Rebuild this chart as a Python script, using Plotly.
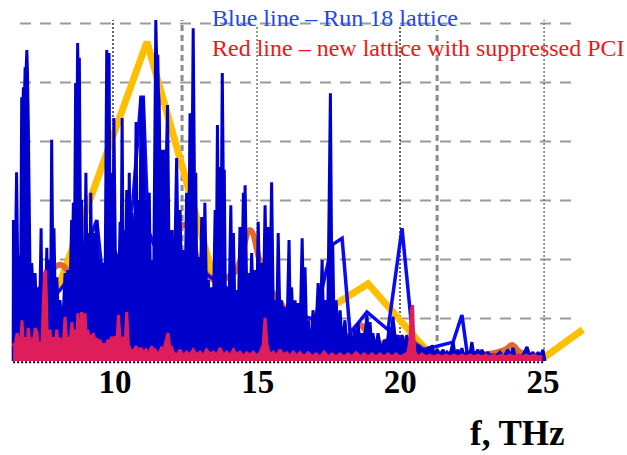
import plotly.graph_objects as go

# ---- spectra: frequency (THz) and relative amplitude (a.u.) ----
blue_f = [6.43, 6.44, 6.49, 6.55, 6.60, 6.65, 6.69, 6.73, 6.76, 6.79, 6.82, 6.85, 6.87, 6.91, 6.93, 6.96,
          7.02, 7.08, 7.14, 7.20, 7.25, 7.30, 7.35, 7.41, 7.44, 7.48, 7.55, 7.61, 7.65, 7.69, 7.74, 7.78,
          7.83, 7.86, 7.91, 7.96, 8.02, 8.07, 8.16, 8.25, 8.30, 8.35, 8.42, 8.48, 8.51, 8.54, 8.58, 8.62,
          8.66, 8.69, 8.72, 8.75, 8.79, 8.83, 8.86, 8.89, 8.93, 8.98, 9.02, 9.06, 9.11, 9.15, 9.19, 9.24,
          9.30, 9.36, 9.42, 9.47, 9.53, 9.59, 9.65, 9.71, 9.75, 9.79, 9.83, 9.88, 9.93, 9.96, 10.01, 10.06,
          10.12, 10.18, 10.21, 10.25, 10.28, 10.33, 10.37, 10.41, 10.46, 10.50, 10.54, 10.59, 10.67, 10.74,
          10.77, 10.82, 10.87, 10.91, 10.95, 10.99, 11.04, 11.09, 11.15, 11.20, 11.24, 11.29, 11.35, 11.43,
          11.46, 11.50, 11.52, 11.55, 11.60, 11.64, 11.68, 11.73, 11.77, 11.84, 11.91, 11.99, 12.07, 12.16,
          12.23, 12.28, 12.34, 12.39, 12.45, 12.51, 12.57, 12.63, 12.68, 12.74, 12.79, 12.83, 12.87, 12.92,
          12.98, 13.04, 13.10, 13.15, 13.21, 13.27, 13.33, 13.39, 13.45, 13.51, 13.55, 13.59, 13.62, 13.66,
          13.71, 13.76, 13.80, 13.83, 13.87, 13.92, 13.99, 14.06, 14.10, 14.15, 14.21, 14.27, 14.32, 14.38,
          14.44, 14.50, 14.53, 14.56, 14.62, 14.67, 14.73, 14.79, 14.85, 14.91, 14.97, 15.02, 15.08, 15.14,
          15.20, 15.26, 15.32, 15.37, 15.43, 15.49, 15.55, 15.61, 15.67, 15.72, 15.78, 15.84, 15.90, 15.96,
          16.03, 16.10, 16.14, 16.19, 16.25, 16.31, 16.37, 16.42, 16.49, 16.56, 16.61, 16.66, 16.72, 16.78,
          16.83, 16.90, 16.94, 17.03, 17.12, 17.19, 17.26, 17.31, 17.36, 17.45, 17.55, 17.59, 17.63, 17.68,
          17.75, 17.82, 17.89, 17.96, 18.06, 18.13, 18.24, 18.31, 18.41, 18.48, 18.52, 18.59, 18.66, 18.73,
          18.83, 18.90, 18.94, 18.99, 19.04, 19.13, 19.22, 19.32, 19.46, 19.53, 19.60, 19.67, 19.74, 19.85,
          19.92, 19.99, 20.06, 20.13, 20.23, 20.30, 20.37, 20.44, 20.51, 20.58, 20.65, 20.72, 20.79, 20.90,
          21.00, 21.08, 21.11, 21.18, 21.29, 21.39, 21.50, 21.57, 21.64, 21.74, 21.85, 21.92, 22.02, 22.09,
          22.16, 22.23, 22.34, 22.43, 22.51, 22.58, 22.72, 22.79, 22.86, 22.97, 23.07, 23.14, 23.25, 23.35,
          23.49, 23.63, 23.77, 23.86, 23.95, 24.04, 24.13, 24.27, 24.44, 24.55, 24.65, 24.74, 24.83, 24.91,
          25.00, 25.07]
blue_a = [0.00, 2.39, 1.03, 3.20, 1.20, 1.80, 1.03, 4.47, 4.08, 4.64, 4.25, 4.98, 4.76, 5.27, 4.93, 4.05,
          1.54, 1.66, 1.03, 1.49, 0.69, 1.25, 0.53, 2.25, 0.69, 1.03, 0.53, 1.92, 0.69, 1.71, 0.69, 3.75,
          1.03, 2.25, 0.86, 1.42, 0.69, 1.03, 0.53, 1.49, 1.03, 1.54, 1.03, 2.39, 1.71, 2.68, 1.88, 4.71,
          3.58, 5.39, 4.42, 5.14, 2.05, 2.73, 1.37, 1.76, 1.03, 3.19, 1.37, 2.17, 1.03, 2.85, 1.20, 2.17,
          1.37, 2.39, 1.03, 1.71, 1.03, 1.66, 1.03, 5.27, 4.59, 5.22, 1.88, 3.19, 1.37, 4.12, 1.88, 1.76,
          1.03, 2.36, 1.37, 4.12, 1.71, 2.22, 1.20, 2.90, 1.37, 3.19, 1.37, 2.51, 1.03, 4.05,
          1.88, 2.73, 1.37, 4.47, 2.73, 4.47, 1.37, 2.73, 1.20, 2.85, 1.37, 1.71, 1.03, 5.78,
          5.10, 5.19, 4.59, 4.37, 1.88, 3.58, 1.88, 3.58, 2.73, 4.34, 1.03, 2.22, 1.03, 3.44,
          1.20, 2.56, 1.03, 1.88, 0.86, 2.85, 1.03, 4.20, 1.88, 5.64, 2.73, 3.19, 1.03, 1.76,
          0.86, 2.44, 1.03, 2.68, 1.03, 1.37, 0.69, 1.25, 0.86, 2.56, 1.37, 4.00, 1.88, 3.29,
          1.37, 4.88, 2.73, 3.24, 0.86, 1.25, 0.69, 2.64, 1.03, 2.17, 0.69, 1.20, 0.69, 2.27,
          1.03, 2.85, 1.88, 2.98, 1.03, 1.49, 0.86, 1.83, 0.86, 1.54, 0.86, 2.36, 0.86, 1.66,
          0.86, 2.64, 1.03, 2.27, 1.03, 3.03, 0.69, 1.03, 0.53, 2.17, 0.69, 1.03, 0.53, 0.86,
          0.53, 2.05, 0.69, 1.25, 0.53, 1.03, 0.53, 0.98, 0.53, 2.08, 0.69, 1.59, 0.36, 0.69,
          0.27, 0.47, 0.86, 0.36, 1.32, 0.53, 1.71, 0.53, 1.03, 0.36, 4.54, 1.88, 2.00, 0.53,
          1.03, 0.36, 0.86, 0.27, 0.69, 0.27, 0.47, 0.27, 0.53, 0.27, 0.64, 0.27, 0.47, 0.27,
          0.78, 0.27, 0.66, 0.27, 0.47, 0.19, 0.47, 0.19, 0.36, 0.19, 0.58, 0.27, 0.75, 0.27,
          0.44, 0.19, 0.44, 0.19, 0.44, 0.19, 0.36, 0.15, 0.27, 0.15, 0.27, 0.14, 0.19, 0.10,
          0.24, 0.10, 0.27, 0.10, 0.19, 0.10, 0.19, 0.08, 0.15, 0.10, 0.32, 0.10, 0.19, 0.08,
          0.22, 0.08, 0.15, 0.08, 0.32, 0.08, 0.19, 0.08, 0.19, 0.08, 0.15, 0.07, 0.10, 0.08,
          0.15, 0.07, 0.19, 0.08, 0.22, 0.07, 0.10, 0.07, 0.24, 0.07, 0.15, 0.07, 0.15, 0.07,
          0.19, 0.00]

# coarser run-18 trace (brighter blue)
coarse_f = [6.43, 7.37, 8.07, 8.60, 9.05, 9.36, 9.51, 9.90, 10.35, 10.63, 10.91, 10.99, 11.16, 11.58,
            12.28, 12.98, 14.03, 15.08, 16.13, 17.01, 17.61, 17.96, 18.24, 18.83, 19.57, 20.06, 20.45,
            20.80, 21.85, 22.16, 22.34, 23.14, 25.07]
coarse_a = [0.36, 0.86, 1.20, 1.54, 1.97, 2.39, 1.68, 1.29, 1.88, 2.73, 4.47, 4.47, 2.22, 1.71,
            1.37, 1.54, 1.20, 1.03, 0.86, 0.69, 1.97, 2.08, 0.47, 0.83, 0.53, 2.25, 0.32,
            0.19, 0.32, 0.78, 0.15, 0.10, 0.05]

red_f = [6.43, 6.49, 6.57, 6.64, 6.69, 6.74, 6.79, 6.85, 6.92, 6.96, 7.02, 7.09, 7.14, 7.20, 7.26, 7.31,
         7.37, 7.44, 7.49, 7.53, 7.57, 7.62, 7.67, 7.72, 7.77, 7.84, 7.90, 7.96, 8.00, 8.07, 8.13, 8.19,
         8.25, 8.31, 8.36, 8.42, 8.49, 8.55, 8.60, 8.65, 8.70, 8.75, 8.79, 8.83, 8.88, 8.95, 8.99, 9.04,
         9.09, 9.14, 9.19, 9.24, 9.30, 9.36, 9.42, 9.47, 9.53, 9.59, 9.65, 9.71, 9.77, 9.82, 9.88, 9.94,
         10.00, 10.06, 10.12, 10.18, 10.23, 10.29, 10.35, 10.41, 10.47, 10.55, 10.64, 10.74, 10.82, 10.90,
         10.99, 11.09, 11.17, 11.29, 11.34, 11.40, 11.52, 11.64, 11.69, 11.75, 11.86, 11.93, 11.99, 12.04,
         12.16, 12.28, 12.39, 12.51, 12.63, 12.74, 12.86, 12.98, 13.10, 13.21, 13.33, 13.45, 13.56, 13.68,
         13.80, 13.92, 14.03, 14.15, 14.27, 14.38, 14.50, 14.62, 14.73, 14.85, 14.97, 15.08, 15.19, 15.26,
         15.33, 15.43, 15.55, 15.67, 15.78, 15.90, 16.02, 16.13, 16.25, 16.37, 16.48, 16.62, 16.77, 16.90,
         17.05, 17.19, 17.33, 17.47, 17.61, 17.75, 17.89, 18.03, 18.17, 18.31, 18.45, 18.59, 18.73, 18.87,
         19.01, 19.15, 19.29, 19.43, 19.57, 19.71, 19.85, 19.99, 20.13, 20.27, 20.34, 20.39, 20.43, 20.46,
         20.51, 20.62, 20.76, 20.90, 21.04, 21.18, 21.32, 21.46, 21.60, 21.74, 21.88, 22.02, 22.16, 22.30,
         22.44, 22.58, 22.72, 22.86, 23.00, 23.14, 23.28, 23.42, 23.56, 23.70, 23.84, 23.98, 24.12, 24.27,
         24.41, 24.55, 24.69, 24.83, 24.97]
red_a = [0.30, 0.22, 0.47, 0.25, 0.32, 0.69, 0.26, 0.40, 0.24, 0.56, 0.28, 0.40, 0.22, 0.56, 0.49, 0.25,
         0.32, 0.27, 1.03, 1.49, 1.54, 0.53, 0.32, 0.53, 0.27, 0.40, 0.27, 0.53, 0.25, 0.40, 0.22, 0.32,
         0.75, 0.32, 0.40, 0.28, 0.66, 0.32, 0.53, 0.28, 0.81, 0.44, 0.32, 0.83, 0.40, 0.81, 0.32, 0.53,
         0.40, 0.44, 0.27, 0.47, 0.32, 0.39, 0.22, 0.36, 0.25, 0.30, 0.20, 0.30, 0.36, 0.24, 0.41, 0.30,
         0.42, 0.22, 0.78, 0.36, 0.26, 0.41, 0.22, 0.83, 0.27, 0.19, 0.15, 0.25, 0.14, 0.22,
         0.15, 0.19, 0.10, 0.25, 0.15, 0.19, 0.10, 0.24, 0.12, 0.27, 0.47, 0.19, 0.22, 0.14,
         0.10, 0.19, 0.08, 0.15, 0.10, 0.19, 0.10, 0.15, 0.08, 0.19, 0.12, 0.15, 0.08, 0.22,
         0.10, 0.15, 0.08, 0.19, 0.10, 0.15, 0.08, 0.14, 0.10, 0.15, 0.08, 0.14, 0.27, 0.73,
         0.27, 0.10, 0.15, 0.08, 0.19, 0.10, 0.14, 0.08, 0.15, 0.08, 0.14, 0.07, 0.14, 0.07,
         0.12, 0.07, 0.15, 0.07, 0.12, 0.07, 0.12, 0.07, 0.12, 0.07, 0.14, 0.07, 0.12, 0.07,
         0.12, 0.07, 0.12, 0.07, 0.12, 0.07, 0.12, 0.07, 0.10, 0.15, 0.36, 0.86, 0.95, 0.53,
         0.15, 0.07, 0.12, 0.07, 0.10, 0.07, 0.10, 0.07, 0.10, 0.07, 0.10, 0.07, 0.10, 0.07,
         0.10, 0.07, 0.10, 0.07, 0.10, 0.07, 0.10, 0.07, 0.10, 0.07, 0.10, 0.07, 0.10, 0.07,
         0.10, 0.07, 0.10, 0.07, 0.08]

# smoothed envelopes
env_f = [7.79, 11.12, 13.58, 14.38, 16.48, 18.87, 20.94, 21.39, 25.07, 26.40]
env_a = [0.95, 5.41, 1.20, 1.03, 0.58, 1.31, 0.17, 0.12, 0.07, 0.53]

env2_f = [7.20, 8.07, 9.12, 10.18, 11.23, 12.45, 12.98, 13.51, 14.21, 14.73, 15.26, 15.85, 16.48,
          17.19, 17.89, 18.59, 19.11, 19.81, 20.34, 21.04, 22.79, 23.67, 23.92, 24.19, 25.07]
env2_a = [1.03, 1.63, 1.03, 1.20, 1.54, 2.31, 1.63, 1.37, 1.51, 2.22, 1.37, 0.95, 0.53,
          0.36, 0.27, 0.61, 0.27, 0.39, 0.34, 0.15, 0.10, 0.19, 0.27, 0.15, 0.05]

tick_vals = [10, 15, 20, 25]
tick_text = ["10", "15", "20", "25"]

legend_blue = "Blue line \u2013 Run 18 lattice"
legend_red = "Red line \u2013 new lattice with suppressed PCI"
x_title = "f, THz"

# reference lines
grid_levels = [0.72, 1.72, 2.72, 3.72, 4.72, 5.72]
SERIF = "Liberation Serif, Times New Roman, serif"

fig = go.Figure()

fig.add_trace(go.Scatter(x=env_f, y=env_a, mode="lines",
                         line=dict(color="#FFBE00", width=7), hoverinfo="skip"))
fig.add_trace(go.Scatter(x=env2_f, y=env2_a, mode="lines",
                         line=dict(color="#E2692E", width=6, shape="spline", simplify=False),
                         hoverinfo="skip"))
fig.add_trace(go.Scatter(x=coarse_f, y=coarse_a, mode="lines",
                         line=dict(color="#0A0AF5", width=3.5, simplify=False), hoverinfo="skip"))
fig.add_trace(go.Scatter(x=blue_f, y=blue_a, mode="lines", fill="tozeroy", fillcolor="#0000CD",
                         line=dict(color="#0000CD", width=3, simplify=False), hoverinfo="skip"))
fig.add_trace(go.Scatter(x=red_f, y=red_a, mode="lines", fill="tozeroy", fillcolor="#DE1E5A",
                         line=dict(color="#DE1E5A", width=3, simplify=False), hoverinfo="skip"))

shapes = []
for g in grid_levels:
    shapes.append(dict(type="line", xref="x", yref="y", x0=6.67, x1=26.1, y0=g, y1=g,
                       line=dict(color="#9a9a9a", width=2, dash="11px,9px"), layer="below"))

vlines = [
    (9.93, 5.78, "#111111", 1.3, "2px,2px"),
    (12.35, 5.78, "#8a8a8a", 3, "6px,4px"),
    (14.98, 5.69, "#777777", 1.5, "2px,2px"),
    (19.99, 5.66, "#111111", 1.3, "2px,2px"),
    (21.29, 5.61, "#8a8a8a", 3, "6px,4px"),
    (25.04, 5.78, "#777777", 1.5, "2px,2px"),
]
for xv, top, col, w, d in vlines:
    shapes.append(dict(type="line", xref="x", yref="y", x0=xv, x1=xv, y0=0, y1=top,
                       line=dict(color=col, width=w, dash=d), layer="below"))

shapes.append(dict(type="line", xref="x", yref="y", x0=6.43, x1=25.07, y0=-0.02, y1=-0.02,
                   line=dict(color="#000000", width=2, dash="2px,2px"), layer="above"))

fig.update_layout(
    width=627, height=455,
    margin=dict(l=0, r=0, t=0, b=90, pad=0),
    paper_bgcolor="white", plot_bgcolor="white",
    showlegend=False,
    shapes=shapes,
    xaxis=dict(range=[5.969, 27.946], tickmode="array", tickvals=tick_vals, ticktext=tick_text,
               showgrid=False, zeroline=False, showline=False, ticks="", ticklabelstandoff=-6,
               tickfont=dict(family=SERIF, size=33, color="black", weight="bold")),
    yaxis=dict(range=[-0.068, 6.119], visible=False, showgrid=False, zeroline=False),
    annotations=[
        dict(text=legend_blue, xref="paper", yref="paper", x=210 / 627, y=0.951,
             xanchor="left", yanchor="middle", showarrow=False,
             font=dict(family=SERIF, size=24, color="#2446F0")),
        dict(text=legend_red, xref="paper", yref="paper", x=210 / 627, y=0.868,
             xanchor="left", yanchor="middle", showarrow=False,
             font=dict(family=SERIF, size=24, color="#F01616")),
        dict(text="<b>" + x_title + "</b>", xref="paper", yref="paper", x=0.826, y=-0.2466,
             xanchor="center", yanchor="bottom", showarrow=False,
             font=dict(family=SERIF, size=35, color="black")),
    ],
)

fig.write_html("out.html")
